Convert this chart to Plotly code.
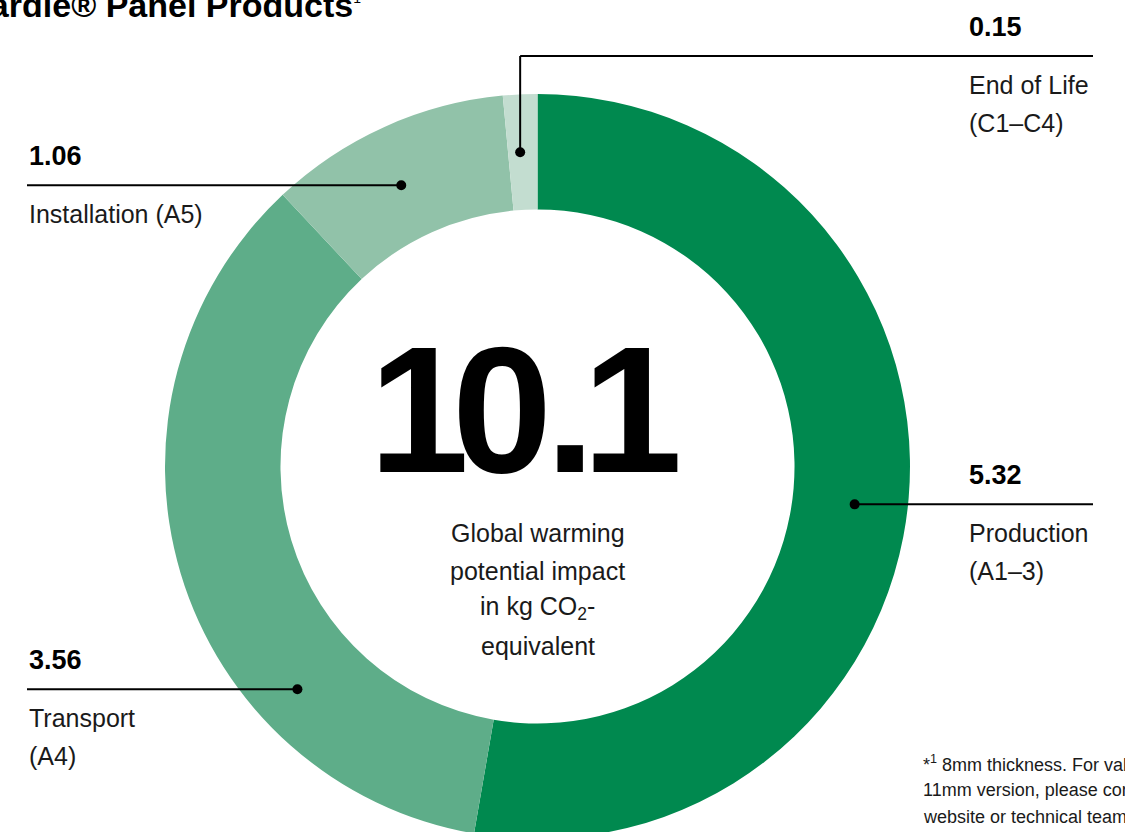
import math
import plotly.graph_objects as go

# ---------------- data ----------------
categories = ["Production (A1–3)", "Transport (A4)", "Installation (A5)", "End of Life (C1–C4)"]
values = [5.32, 3.56, 1.06, 0.15]
value_labels = ["5.32", "3.56", "1.06", "0.15"]
label_lines = [["Production", "(A1–3)"], ["Transport", "(A4)"], ["Installation (A5)"], ["End of Life", "(C1–C4)"]]
total_label = "10.1"
center_lines = ["Global warming", "potential impact", "in kg CO<sub>2</sub>-", "equivalent"]
title_text = "James Hardie® Panel Products"
title_note = "1"
footnote_lines = ["*<sup>1</sup> 8mm thickness. For values of the", "11mm version, please contact our", "website or technical team."]

# ---------------- style / layout ----------------
colors = ["#00894F", "#5EAD89", "#91C2A9", "#C3DDD0"]
W, H = 1125, 850
CX, CY, R, HOLE = 537.5, 466.5, 372.5, 0.69
anchor_frac = [0.51, 0.294, 0.458, 0.41]   # position of the dot along each slice
anchor_r = [0.54, 0.61, 0.48, 0.5]         # position of the dot across the ring
sides = ["right", "left", "left", "right"]
elbow_y = [None, None, None, 56]
FONT = "Liberation Sans, Arial, Helvetica, sans-serif"
TXT = "#1a1a1a"
big_spacing = {"1": -17, "0": -7, ".": -13}

fig = go.Figure()
fig.add_trace(go.Pie(
    labels=categories, values=values, sort=False, direction="clockwise", rotation=0,
    hole=HOLE, marker=dict(colors=colors, line=dict(width=0)),
    textinfo="none", hoverinfo="label+value", showlegend=False,
    domain=dict(x=[(CX - R) / W, (CX + R) / W], y=[1 - (CY + R) / H, 1 - (CY - R) / H]),
))
# invisible trace to activate a pixel-space overlay axis
fig.add_trace(go.Scatter(x=[0, W], y=[0, H], mode="markers", marker=dict(opacity=0),
                         hoverinfo="skip", showlegend=False))

shapes, annots = [], []
total = sum(values)
start = 0.0
r_in = R * HOLE
for i, v in enumerate(values):
    span = v / total * 360
    th = math.radians(start + anchor_frac[i] * span)
    start += span
    rr = r_in + anchor_r[i] * (R - r_in)
    dx, dy = CX + rr * math.sin(th), CY - rr * math.cos(th)
    ly = dy if elbow_y[i] is None else elbow_y[i]
    if elbow_y[i] is not None:
        shapes.append(dict(type="line", x0=dx, y0=dy, x1=dx, y1=ly, line=dict(color="black", width=2)))
    if sides[i] == "right":
        tx, x0, x1 = 967, dx, 1093
    else:
        tx, x0, x1 = 27, 27, dx
    shapes.append(dict(type="line", x0=x0, y0=ly, x1=x1, y1=ly, line=dict(color="black", width=2)))
    shapes.append(dict(type="circle", x0=dx - 5, y0=dy - 5, x1=dx + 5, y1=dy + 5,
                       fillcolor="black", line=dict(width=0)))
    annots.append(dict(x=tx, y=ly - 29, text="<b>%s</b>" % value_labels[i], xanchor="left",
                       yanchor="middle", font=dict(size=27, color="black", family=FONT)))
    for j, t in enumerate(label_lines[i]):
        annots.append(dict(x=tx, y=ly + 29 + 38 * j, text=t, xanchor="left", yanchor="middle",
                           font=dict(size=25, color=TXT, family=FONT)))

for s in shapes:
    s.update(xref="x", yref="y", layer="above")

# center total, tightly tracked
big = "".join('<span style="letter-spacing:%dpx">%s</span>' % (big_spacing.get(c, 0), c)
              for c in total_label[:-1]) + total_label[-1]
annots.append(dict(x=CX - 12, y=409, text=big, xanchor="center", yanchor="middle",
                   font=dict(size=180, color="black", family=FONT, weight="bold")))
for j, t in enumerate(center_lines):
    annots.append(dict(x=CX, y=533 + 37.5 * j, text=t, xanchor="center", yanchor="middle",
                       font=dict(size=25, color=TXT, family=FONT)))
# title (cropped at the top-left like the reference)
annots.append(dict(x=363, y=5,
                   text='<b>%s</b><sup><span style="font-size:14px">%s</span></sup>' % (title_text, title_note),
                   xanchor="right", yanchor="middle",
                   font=dict(size=34, color="black", family=FONT)))
# footnote
for j, t in enumerate(footnote_lines):
    annots.append(dict(x=921, y=763 + 27 * j, text=t, xanchor="left", yanchor="middle",
                       font=dict(size=18, color=TXT, family=FONT)))

for a in annots:
    a.update(xref="x", yref="y", showarrow=False)

fig.update_layout(
    width=W, height=H, margin=dict(l=0, r=0, t=0, b=0),
    paper_bgcolor="white", plot_bgcolor="white",
    xaxis=dict(range=[0, W], visible=False, domain=[0, 1], fixedrange=True),
    yaxis=dict(range=[H, 0], visible=False, domain=[0, 1], fixedrange=True),
    shapes=shapes, annotations=annots, showlegend=False,
)

fig.write_html("out.html", config={"displayModeBar": False},
               post_script="document.body.style.margin='0';document.body.style.overflow='hidden';"
                           "document.documentElement.style.overflow='hidden';")
